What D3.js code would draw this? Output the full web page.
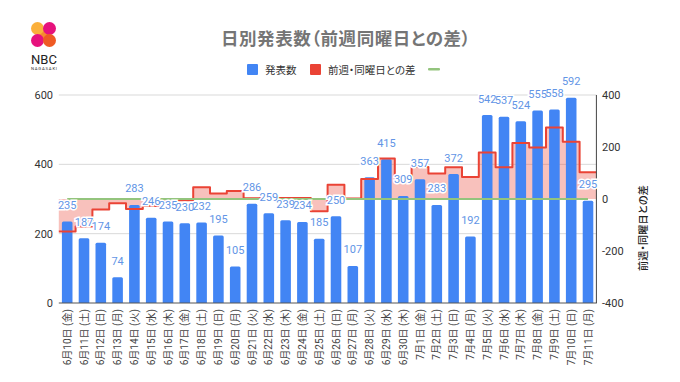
<!DOCTYPE html>
<html>
<head>
	<title></title>
	<style>
		body { margin: 0; background: #fff; }
		text { font-family: Roboto, "Noto Sans CJK JP", sans-serif; }
		.palt { font-feature-settings: "palt"; }
	</style>
</head>
<body>
	<svg id="container" height="382" width="680"></svg>
</body>
<script src="https://d3js.org/d3.v7.min.js"></script>
<script>
	let dates = ["6月10日 (金)","6月11日 (土)","6月12日 (日)","6月13日 (月)","6月14日 (火)","6月15日 (水)","6月16日 (木)","6月17日 (金)",
		"6月18日 (土)","6月19日 (日)","6月20日 (月)","6月21日 (火)","6月22日 (水)","6月23日 (木)","6月24日 (金)","6月25日 (土)",
		"6月26日 (日)","6月27日 (月)","6月28日 (火)","6月29日 (水)","6月30日 (木)","7月1日 (金)","7月2日 (土)","7月3日 (日)",
		"7月4日 (月)","7月5日 (火)","7月6日 (水)","7月7日 (木)","7月8日 (金)","7月9日 (土)","7月10日 (日)","7月11日 (月)"]
	let counts = [235,187,174,74,283,246,235,230,232,195,105,286,259,239,234,185,250,107,363,415,309,357,283,372,192,542,537,524,555,558,592,295]
	let diffs = [-125,-106,-40,-16,-38,-27,-2,-5,45,21,31,3,13,4,4,-47,55,2,77,156,70,123,98,122,85,179,122,215,198,275,220,103]
	let zeros = dates.map(d => 0)
	let leftTicks = [0,200,400,600]
	let rightTicks = [-400,-200,0,200,400]

	let svg = d3.select("#container")
	let plotLeft = 58.8, plotRight = 596.4, plotTop = 95, plotBottom = 303

	let x = d3.scaleBand().domain(dates).range([plotLeft, plotRight]).paddingInner(0.37).paddingOuter(0.185)
	let yLeft = d3.scaleLinear().domain([0,600]).range([plotBottom, plotTop])
	let yRight = d3.scaleLinear().domain([-400,400]).range([plotBottom, plotTop])
	let step = x.step()
	let cx = d => x(d) + x.bandwidth()/2

	// gridlines
	svg.append("g").selectAll("line")
		.data(leftTicks.slice(1))
		.enter().append("line")
			.attr("x1", plotLeft).attr("x2", plotRight)
			.attr("y1", d => yLeft(d)).attr("y2", d => yLeft(d))
			.attr("stroke", "#d9d9d9").attr("stroke-width", 1)

	// stepped area: every value covers the full width of its band
	let stepPoints = []
	dates.forEach((d,i) => {
		stepPoints.push([cx(d) - step/2, diffs[i]])
		stepPoints.push([cx(d) + step/2, diffs[i]])
	})

	svg.append("path")
		.datum(stepPoints)
		.attr("fill", "#ea4335").attr("fill-opacity", 0.33)
		.attr("d", d3.area().x(d => d[0]).y0(yRight(0)).y1(d => yRight(d[1])))

	// bars
	let r = 1.5
	svg.append("g").selectAll("path")
		.data(dates)
		.enter().append("path")
			.attr("fill", "#4285f4")
			.attr("d", (d,i) => {
				let x0 = x(d), w = x.bandwidth(), y0 = yLeft(counts[i])
				return `M${x0},${plotBottom}V${y0+r}Q${x0},${y0} ${x0+r},${y0}H${x0+w-r}Q${x0+w},${y0} ${x0+w},${y0+r}V${plotBottom}Z`
			})

	svg.append("path")
		.datum(stepPoints)
		.attr("fill", "none").attr("stroke", "#ea4335").attr("stroke-width", 2)
		.attr("stroke-linejoin", "round")
		.attr("d", d3.line().x(d => d[0]).y(d => yRight(d[1])))

	svg.append("path")
		.datum(zeros)
		.attr("fill", "none").attr("stroke", "#93c47d").attr("stroke-width", 2)
		.attr("d", d3.line().x((d,i) => cx(dates[i])).y(d => yRight(d)))

	// axes
	svg.append("line")
		.attr("x1", plotLeft).attr("x2", plotRight + 0.5)
		.attr("y1", plotBottom).attr("y2", plotBottom)
		.attr("stroke", "#555").attr("stroke-width", 1)
	svg.append("line")
		.attr("x1", plotRight).attr("x2", plotRight)
		.attr("y1", plotTop).attr("y2", plotBottom)
		.attr("stroke", "#444").attr("stroke-width", 1)

	svg.append("g").selectAll("text")
		.data(leftTicks)
		.enter().append("text")
			.text(d => d)
			.attr("x", 53).attr("y", d => yLeft(d) + 4)
			.attr("text-anchor", "end").attr("font-size", 11).attr("fill", "#333")

	svg.append("g").selectAll("text")
		.data(rightTicks)
		.enter().append("text")
			.text(d => d)
			.attr("x", 602).attr("y", d => yRight(d) + 4)
			.attr("font-size", 11).attr("fill", "#333")

	svg.append("g").selectAll("text")
		.data(dates)
		.enter().append("text")
			.text(d => d)
			.attr("transform", d => `translate(${cx(d) + 3.5},309) rotate(-90)`)
			.attr("text-anchor", "end").attr("font-size", 10).attr("fill", "#444")

	// value labels: halos in a first pass so they never cut a neighbouring number
	let labelY = (d,i) => yLeft(counts[i]) - 12.5
	svg.append("g").selectAll("text")
		.data(dates)
		.enter().append("text")
			.text((d,i) => counts[i])
			.attr("x", d => cx(d)).attr("y", labelY)
			.attr("text-anchor", "middle").attr("font-size", 11)
			.attr("fill", "#fff").attr("stroke", "#fff").attr("stroke-width", 3)
	svg.append("g").selectAll("text")
		.data(dates)
		.enter().append("text")
			.text((d,i) => counts[i])
			.attr("x", d => cx(d)).attr("y", labelY)
			.attr("text-anchor", "middle").attr("font-size", 11).attr("fill", "#6295e6")

	// title, legend
	svg.append("text")
		.attr("class", "palt")
		.text("日別発表数（前週同曜日との差）")
		.attr("x", 221).attr("y", 45)
		.attr("letter-spacing", 0.55)
		.attr("font-size", 17.5).attr("font-weight", "bold").attr("fill", "#757575")

	let legendNames = ["発表数","前週・同曜日との差",""]
	let legendColors = ["#4285f4","#ea4335","#93c47d"]
	let legendX = [247,310,428]
	let legend = svg.append("g").selectAll("g")
		.data(legendNames)
		.enter().append("g")
			.attr("transform", (d,i) => `translate(${legendX[i]},64)`)
	legend.append("rect")
		.attr("width", (d,i) => i == 2 ? 12 : 11).attr("height", (d,i) => i == 2 ? 2.5 : 11)
		.attr("y", (d,i) => i == 2 ? 4 : 0)
		.attr("rx", 1)
		.attr("fill", (d,i) => legendColors[i])
	legend.append("text")
		.attr("class", "palt")
		.text(d => d)
		.attr("x", 18).attr("y", 10)
		.attr("font-size", 10.5).attr("fill", "#333")

	svg.append("text")
		.attr("class", "palt")
		.text("前週・同曜日との差")
		.attr("transform", "translate(647,271) rotate(-90)")
		.attr("letter-spacing", 0.3)
		.attr("font-size", 10).attr("font-weight", 500).attr("fill", "#222")

	// logo
	let logo = svg.append("g")
	let logoDots = [[37.5,28.5,"#fbb03b"],[49.5,28.5,"#e6127d"],[37.5,40.5,"#e6127d"],[49.5,40.5,"#ef5a24"]]
	logo.append("path").attr("d","M37.5,40.5L49.5,28.5").attr("stroke","#e6127d").attr("stroke-width",7)
	logo.append("path").attr("d","M37.5,28.5L49.5,40.5").attr("stroke","#f58a30").attr("stroke-width",7)
	logo.selectAll("circle")
		.data(logoDots)
		.enter().append("circle")
			.attr("cx", d => d[0]).attr("cy", d => d[1]).attr("r", 6.5)
			.attr("fill", d => d[2])
	logo.append("text").text("NBC").attr("x",31).attr("y",63.5)
		.attr("textLength",26).attr("font-size",13).attr("fill","#222")
	logo.append("text").text("NAGASAKI").attr("x",31).attr("y",70)
		.attr("textLength",26).attr("font-size",4.2).attr("fill","#333")
</script>
</html>
